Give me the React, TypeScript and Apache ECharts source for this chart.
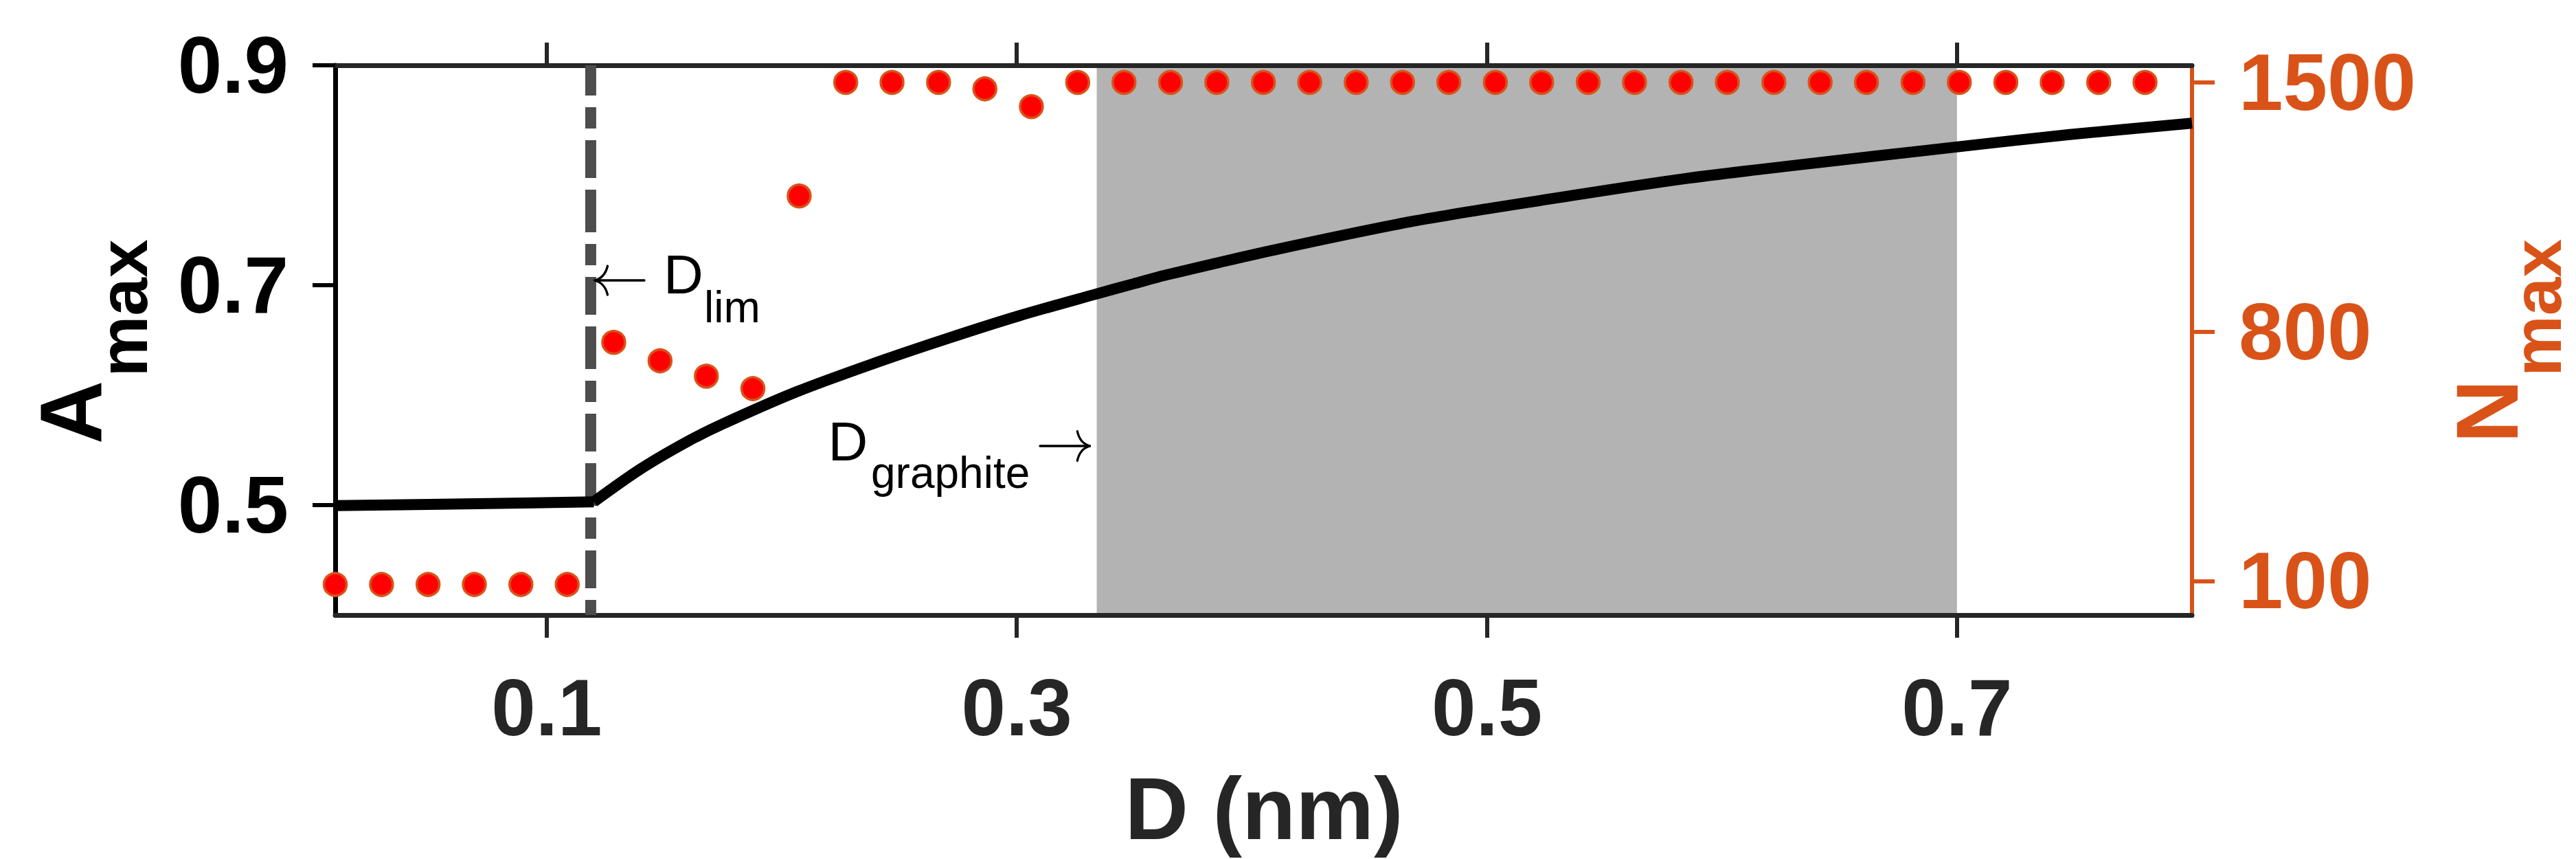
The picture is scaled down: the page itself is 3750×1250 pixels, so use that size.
import React, { useEffect, useRef } from "react";
import * as echarts from "echarts";

// ---- Data ----
// Scatter points (right axis, N_max)
const D_DOTS = [
  0.01, 0.0297, 0.0495, 0.0692, 0.089, 0.1087, 0.1285, 0.1482, 0.1679, 0.1877,
  0.2074, 0.2272, 0.2469, 0.2667, 0.2864, 0.3062, 0.3259, 0.3456, 0.3654, 0.3851,
  0.4049, 0.4246, 0.4444, 0.4641, 0.4838, 0.5036, 0.5233, 0.5431, 0.5628, 0.5826,
  0.6023, 0.6221, 0.6418, 0.6615, 0.6813, 0.701, 0.7208, 0.7405, 0.7603, 0.78,
];
const N_DOTS = [
  90, 90, 90, 90, 90, 90, 770, 718, 675, 640,
  1181, 1500, 1500, 1500, 1482, 1432, 1500, 1500, 1500, 1500,
  1500, 1500, 1500, 1500, 1500, 1500, 1500, 1500, 1500, 1500,
  1500, 1500, 1500, 1500, 1500, 1500, 1500, 1500, 1500, 1500,
];

// Curve (left axis, A_max); the kink sits at index KINK
const D_CURVE = [
  0.01, 0.05, 0.09, 0.12, 0.14, 0.16, 0.175, 0.206, 0.238, 0.27, 0.301, 0.333,
  0.35, 0.364, 0.41, 0.469, 0.529, 0.584, 0.629, 0.701, 0.748, 0.8,
];
const A_CURVE = [
  0.4995, 0.5007, 0.5019, 0.503, 0.533, 0.558, 0.5739, 0.6028, 0.628, 0.6512, 0.6722, 0.6915,
  0.7015, 0.7095, 0.7323, 0.7583, 0.7791, 0.7968, 0.8085, 0.826, 0.837, 0.8474,
];
const KINK = 3;

const D_LIM = [0.1187];
const GRAPHITE_RANGE = [[0.334, 0.7]];

// Axis extents and ticks
const X_RANGE = [0.01, 0.8];
const A_RANGE = [0.4, 0.9];
const N_RANGE = [4, 1548];
const X_TICKS = [0.1, 0.3, 0.5, 0.7];
const A_TICKS = [0.5, 0.7, 0.9];
const N_TICKS = [100, 800, 1500];

const FONT = "'Liberation Sans', Arial, Helvetica, sans-serif";
const ORANGE = "#D95319";
const DARK = "#262626";

export default function App() {
  const ref = useRef<HTMLDivElement>(null);

  useEffect(() => {
    if (!ref.current) return;
    const chart = echarts.init(ref.current, null, { renderer: "svg" });

    const txt = (
      text: string,
      x: number,
      y: number,
      fontSize: number,
      opts: any = {}
    ) => ({
      type: "text",
      x,
      y,
      z: 10,
      rotation: opts.rotation || 0,
      style: {
        text,
        fontSize,
        fontFamily: FONT,
        fontWeight: opts.bold ? "bold" : "normal",
        fill: opts.fill || "#000",
        align: opts.align || "left",
        verticalAlign: "middle",
      },
    });

    const arrowStyle = { stroke: "#000", lineWidth: 3.3, fill: null, lineCap: "round" };
    const curvePts = D_CURVE.map((d, i) => [d, A_CURVE[i]]);

    const option: any = {
      animation: false,
      backgroundColor: "#ffffff",
      grid: { left: 488, right: 559, top: 95, bottom: 355, containLabel: false },
      xAxis: [
        {
          type: "value",
          min: X_RANGE[0],
          max: X_RANGE[1],
          position: "bottom",
          z: 2,
          axisLine: { show: true, onZero: false, lineStyle: { color: DARK, width: 7 } },
          axisTick: {
            show: true,
            inside: false,
            length: 33,
            customValues: X_TICKS,
            lineStyle: { color: DARK, width: 6 },
          },
          axisLabel: {
            show: true,
            customValues: X_TICKS,
            margin: 135,
            verticalAlign: "middle",
            fontSize: 116,
            fontWeight: "bold",
            fontFamily: FONT,
            color: DARK,
            formatter: (v: number) => String(v),
          },
          splitLine: { show: false },
        },
        {
          type: "value",
          min: X_RANGE[0],
          max: X_RANGE[1],
          position: "top",
          z: 2,
          axisLine: { show: true, onZero: false, lineStyle: { color: DARK, width: 7 } },
          axisTick: {
            show: true,
            inside: false,
            length: 33,
            customValues: X_TICKS,
            lineStyle: { color: DARK, width: 6 },
          },
          axisLabel: { show: false },
          splitLine: { show: false },
        },
      ],
      yAxis: [
        {
          type: "value",
          min: A_RANGE[0],
          max: A_RANGE[1],
          position: "left",
          z: 2,
          axisLine: { show: true, onZero: false, lineStyle: { color: "#000", width: 7 } },
          axisTick: {
            show: true,
            inside: false,
            length: 33,
            customValues: A_TICKS,
            lineStyle: { color: "#000", width: 6 },
          },
          axisLabel: {
            show: true,
            customValues: A_TICKS,
            margin: 68,
            fontSize: 116,
            fontWeight: "bold",
            fontFamily: FONT,
            color: "#000",
            formatter: (v: number) => String(v),
          },
          splitLine: { show: false },
        },
        {
          type: "value",
          min: N_RANGE[0],
          max: N_RANGE[1],
          position: "right",
          z: 2,
          axisLine: { show: true, onZero: false, lineStyle: { color: ORANGE, width: 6 } },
          axisTick: {
            show: true,
            inside: false,
            length: 33,
            customValues: N_TICKS,
            lineStyle: { color: ORANGE, width: 6 },
          },
          axisLabel: {
            show: true,
            customValues: N_TICKS,
            margin: 68,
            fontSize: 116,
            fontWeight: "bold",
            fontFamily: FONT,
            color: ORANGE,
            formatter: (v: number) => String(v),
          },
          splitLine: { show: false },
        },
      ],
      series: [
        {
          type: "custom",
          name: "graphite",
          xAxisIndex: 0,
          yAxisIndex: 0,
          z: 1,
          clip: false,
          silent: true,
          data: GRAPHITE_RANGE,
          encode: { x: [0, 1] },
          renderItem: (params: any, api: any) => {
            const a = api.coord([api.value(0), A_RANGE[1]]);
            const b = api.coord([api.value(1), A_RANGE[0]]);
            return {
              type: "rect",
              shape: { x: a[0], y: a[1], width: b[0] - a[0], height: b[1] - a[1] },
              style: { fill: "#b3b3b3" },
            };
          },
        },
        {
          type: "line",
          name: "Dlim",
          xAxisIndex: 0,
          yAxisIndex: 0,
          z: 3,
          symbol: "none",
          silent: true,
          clip: false,
          data: [
            [D_LIM[0], A_RANGE[1]],
            [D_LIM[0], A_RANGE[0]],
          ],
          lineStyle: {
            color: "#4d4d4d",
            width: 16,
            type: [55, 17, 62, 17, 31, 17],
            dashOffset: 90,
            cap: "butt",
          },
        },
        {
          type: "line",
          name: "Amax-flat",
          xAxisIndex: 0,
          yAxisIndex: 0,
          z: 4,
          symbol: "none",
          silent: true,
          data: curvePts.slice(0, KINK + 1),
          lineStyle: { color: "#000", width: 16, join: "round", cap: "butt" },
        },
        {
          type: "line",
          name: "Amax",
          xAxisIndex: 0,
          yAxisIndex: 0,
          z: 4,
          symbol: "none",
          silent: true,
          smooth: 0.3,
          data: curvePts.slice(KINK),
          lineStyle: { color: "#000", width: 16, join: "round", cap: "butt" },
        },
        {
          type: "scatter",
          name: "Nmax",
          xAxisIndex: 0,
          yAxisIndex: 1,
          z: 5,
          silent: true,
          clip: false,
          symbol: "circle",
          symbolSize: 33,
          data: D_DOTS.map((d, i) => [d, N_DOTS[i]]),
          itemStyle: { color: "#ff0000", borderColor: ORANGE, borderWidth: 3.5, opacity: 1 },
        },
      ],
      graphic: [
        // Axis titles
        txt("A", 103, 600, 128, { bold: true, align: "center", rotation: Math.PI / 2 }),
        txt("max", 179, 448.5, 100, { bold: true, align: "center", rotation: Math.PI / 2 }),
        txt("N", 3620, 598.5, 128, { bold: true, align: "center", rotation: Math.PI / 2, fill: ORANGE }),
        txt("max", 3693, 448, 100, { bold: true, align: "center", rotation: Math.PI / 2, fill: ORANGE }),
        txt("D (nm)", 1840, 1176, 128, { bold: true, align: "center", fill: DARK }),
        // Annotations
        txt("D", 966, 399, 80),
        txt("lim", 1025, 447, 64),
        txt("D", 1205.5, 642, 80),
        txt("graphite", 1268, 688, 64),
        // left arrow (pointing to D_lim line)
        { type: "line", z: 10, shape: { x1: 866, y1: 408, x2: 938, y2: 408 }, style: arrowStyle },
        {
          type: "bezierCurve",
          z: 10,
          shape: { x1: 884.5, y1: 387, cpx1: 880.5, cpy1: 404, x2: 866, y2: 408 },
          style: arrowStyle,
        },
        {
          type: "bezierCurve",
          z: 10,
          shape: { x1: 884.5, y1: 429, cpx1: 880.5, cpy1: 412, x2: 866, y2: 408 },
          style: arrowStyle,
        },
        // right arrow (pointing to graphite region)
        { type: "line", z: 10, shape: { x1: 1514, y1: 649, x2: 1586, y2: 649 }, style: arrowStyle },
        {
          type: "bezierCurve",
          z: 10,
          shape: { x1: 1568.3, y1: 627.5, cpx1: 1572, cpy1: 645, x2: 1586.5, y2: 649 },
          style: arrowStyle,
        },
        {
          type: "bezierCurve",
          z: 10,
          shape: { x1: 1568.3, y1: 670.5, cpx1: 1572, cpy1: 653, x2: 1586.5, y2: 649 },
          style: arrowStyle,
        },
      ],
    };

    chart.setOption(option);
    return () => {
      chart.dispose();
    };
  }, []);

  return (
    <div
      ref={ref}
      style={{
        position: "fixed",
        left: 0,
        top: 0,
        width: 3750,
        height: 1250,
        background: "#ffffff",
      }}
    />
  );
}
